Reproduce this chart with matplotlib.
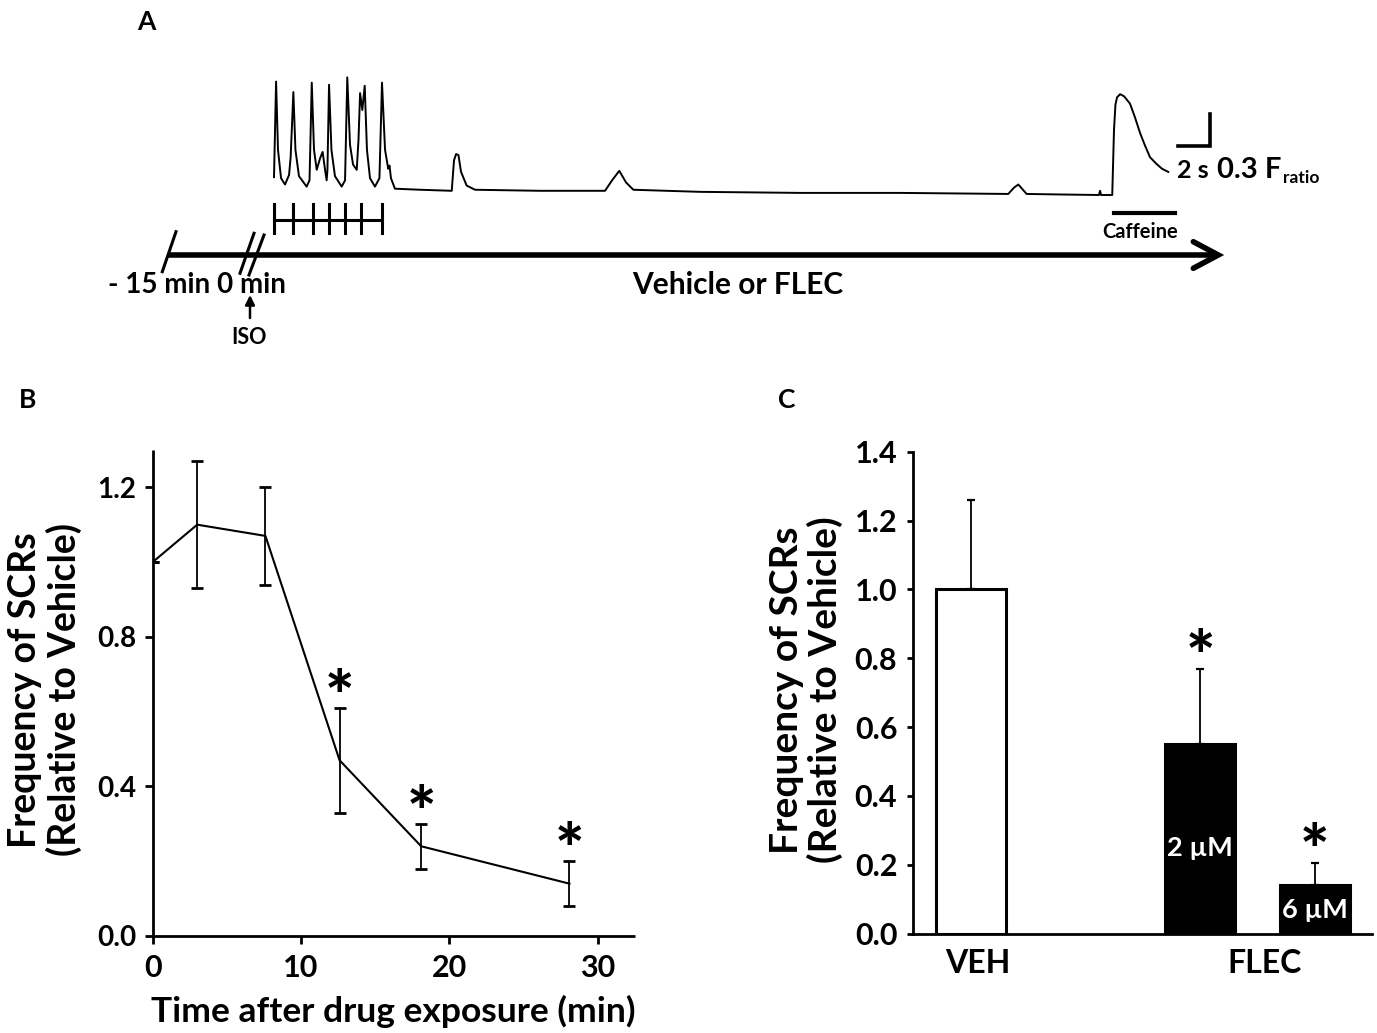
import numpy as np
import matplotlib
matplotlib.use("Agg")
import matplotlib.pyplot as plt

plt.rcParams['font.family'] = ['Lato', 'DejaVu Sans']

# ---- panel A: representative Ca2+ trace (time in s, F ratio) ----
trace_t = [0.00, 0.13, 0.25, 0.44, 0.69, 0.94, 1.04, 1.21, 1.34, 1.56, 2.04, 2.22, 2.36,
           2.50, 2.67, 2.88, 3.04, 3.19, 3.29, 3.34, 3.44, 3.59, 3.81, 4.23, 4.44, 4.58,
           4.75, 4.94, 5.17, 5.28, 5.38, 5.52, 5.67, 5.81, 6.00, 6.31, 6.59, 6.75, 6.94,
           7.14, 7.22, 7.31, 7.56, 9.13, 11.11, 11.25, 11.38, 11.53, 11.69, 12.04, 12.56,
           16.63, 20.69, 21.13, 21.58, 22.00, 22.46, 26.63, 32.88, 39.13, 45.89, 46.25,
           46.52, 46.75, 47.04, 49.13, 51.56, 51.63, 51.69, 52.39, 52.50, 52.59, 52.69,
           52.88, 53.13, 53.50, 53.81, 54.13, 54.44, 54.75, 55.13, 55.50, 55.89]
trace_f = [0.17, 1.08, 0.43, 0.16, 0.10, 0.19, 0.36, 0.98, 0.43, 0.18, 0.08, 0.14, 1.07,
           0.43, 0.24, 0.35, 0.41, 0.24, 0.14, 0.24, 1.05, 0.43, 0.18, 0.08, 0.14, 1.12,
           0.48, 0.29, 0.24, 0.52, 0.97, 0.81, 1.04, 0.43, 0.16, 0.08, 0.16, 1.07, 0.43,
           0.25, 0.28, 0.16, 0.06, 0.05, 0.04, 0.33, 0.39, 0.38, 0.22, 0.09, 0.05,
           0.04, 0.04, 0.14, 0.23, 0.12, 0.05, 0.03, 0.02, 0.02, 0.01, 0.07,
           0.10, 0.06, 0.01, 0.005, 0.00, 0.04, 0.00, 0.00, 0.62, 0.86, 0.93,
           0.96, 0.94, 0.87, 0.74, 0.59, 0.47, 0.36, 0.30, 0.25, 0.22]
pacing_t = [0.00, 1.21, 2.42, 3.44, 4.46, 5.46, 6.73]
caffeine_t = [52.52, 56.31]

# ---- panel B ----
time_min = [0, 3.0, 7.6, 12.6, 18.1, 28.1]
freq_b = [1.00, 1.10, 1.07, 0.47, 0.24, 0.14]
sem_b = [0.0, 0.17, 0.13, 0.14, 0.06, 0.06]
sig_b = [False, False, False, True, True, True]

# ---- panel C ----
groups_c = ['VEH', '2 µM', '6 µM']
freq_c = [1.00, 0.55, 0.14]
sem_c = [0.26, 0.22, 0.066]
sig_c = [False, True, True]

W, H = 1377, 1033
fig = plt.figure(figsize=(W / 100, H / 100), dpi=100)

# overlay in pixel units for the schematic
ov = fig.add_axes([0, 0, 1, 1])
ov.set_xlim(0, W)
ov.set_ylim(H, 0)
ov.axis('off')

# trace axes: 16 px per s, 105 px per F ratio unit, t=0 at x=274, F=0 at y=195
tr = fig.add_axes([0, 0, 1, 1])
tr.set_xlim(-274 / 16, (W - 274) / 16)
tr.set_ylim((195 - H) / 105, 195 / 105)
tr.axis('off')

tr.plot(trace_t, trace_f, color='black', lw=1.4, solid_joinstyle='round')
# pacing bracket
yb, y0, y1 = -0.238, -0.086, -0.365
tr.plot([pacing_t[0], pacing_t[-1]], [yb, yb], color='black', lw=2.2)
for p in pacing_t:
    tr.plot([p, p], [y0, y1], color='black', lw=2.2)
# caffeine bar
tr.plot(caffeine_t, [-0.174, -0.174], color='black', lw=3)
# scale bar 2 s / 0.3 F
tr.plot([56.48, 58.48, 58.48], [0.467, 0.467, 0.767], color='black', lw=2.6,
        solid_joinstyle='miter')

bold = dict(fontweight='bold', color='black')
ov.text(1176.7, 178, '2 s', ha='left', va='baseline', fontsize=18, **bold)
ov.text(1216.7, 178, '0.3 F', ha='left', va='baseline', fontsize=21, **bold)
ov.text(1283, 183, 'ratio', ha='left', va='baseline', fontsize=12.5, **bold)
ov.text(1140.5, 232, 'Caffeine', ha='center', va='center', fontsize=14.5, **bold)

# timeline
ov.plot([168, 1216], [255, 255], color='black', lw=4, solid_capstyle='butt')
ov.plot([1193.3, 1218.3, 1193.3], [241.7, 255, 268.3], color='black', lw=4,
        solid_capstyle='round', solid_joinstyle='miter')
ov.plot([162.3, 176], [271.7, 231.7], color='black', lw=2.2)
ov.plot([240, 254], [273.3, 233.3], color='black', lw=2.2)
ov.plot([249, 264], [275, 235], color='black', lw=2.2)
ov.text(108, 285, '- 15 min', ha='left', va='center', fontsize=20, **bold)
ov.text(216.7, 285, '0 min', ha='left', va='center', fontsize=20, **bold)
ov.text(738, 285, 'Vehicle or FLEC', ha='center', va='center', fontsize=21.5, **bold)
ov.annotate('', xy=(250, 295), xytext=(250, 318),
            arrowprops=dict(arrowstyle='-|>', color='black', lw=1.8,
                            mutation_scale=14, shrinkA=0, shrinkB=0))
ov.text(249, 338, 'ISO', ha='center', va='center', fontsize=15.5, **bold)

# panel letters
ov.text(146, 22, 'A', ha='center', va='center', fontsize=19, **bold)
ov.text(28, 400, 'B', ha='center', va='center', fontsize=19, **bold)
ov.text(787, 400, 'C', ha='center', va='center', fontsize=19, **bold)

# ---- panel B axes ----
axb = fig.add_axes([152.7 / W, (H - 936) / H, 482 / W, 486.1 / H])
axb.errorbar(time_min, freq_b, yerr=sem_b, color='black', lw=1.5,
             elinewidth=1.3, capsize=4.5, capthick=2)
axb.set_xlim(0, 32.5)
axb.set_ylim(0, 1.3)
axb.set_xticks([0, 10, 20, 30])
axb.set_yticks([0, 0.4, 0.8, 1.2])
axb.set_yticklabels(['0.0', '0.4', '0.8', '1.2'])
for s in ['top', 'right']:
    axb.spines[s].set_visible(False)
for s in ['left', 'bottom']:
    axb.spines[s].set_linewidth(2)
    axb.spines[s].set_capstyle('butt')
axb.tick_params(direction='out', length=6, width=2)
axb.tick_params(axis='y', pad=6, labelsize=20)
axb.tick_params(axis='x', pad=7, labelsize=22)
for lbl in axb.get_xticklabels() + axb.get_yticklabels():
    lbl.set_fontweight('bold')
for x, y, e, s in zip(time_min, freq_b, sem_b, sig_b):
    if s:
        axb.annotate('*', xy=(x, y + e), xytext=(0, 5.5), textcoords='offset points',
                     ha='center', va='center', fontsize=50, fontweight='black')
ov.text(393.5, 1022, 'Time after drug exposure (min)', ha='center', va='baseline',
        fontsize=25.5, fontweight='bold')
ov.text(45, 690, 'Frequency of SCRs\n(Relative to Vehicle)', rotation=90,
        ha='center', va='center', multialignment='center', fontsize=27,
        fontweight='bold', linespacing=1.1)

# ---- panel C axes ----
axc = fig.add_axes([913.3 / W, (H - 933.5) / H, (1372 - 913.3) / W, 481.8 / H])
pos_c = [0.5, 2.5, 3.5]
axc.bar(pos_c, freq_c, width=0.61, color=['white', 'black', 'black'],
        edgecolor='black', linewidth=2.2, zorder=2)
axc.errorbar(pos_c, freq_c, yerr=[np.zeros(3), sem_c], fmt='none', ecolor='black',
             elinewidth=1.3, capsize=3, capthick=1.6, zorder=1)
axc.set_xlim(0, 4)
axc.set_ylim(0, 1.4)
axc.set_yticks(np.arange(0, 1.41, 0.2))
axc.set_yticklabels(['%.1f' % v for v in np.arange(0, 1.41, 0.2)])
axc.set_xticks([0.566, 3.06])
axc.set_xticklabels(['VEH', 'FLEC'])
for s in ['top', 'right']:
    axc.spines[s].set_visible(False)
for s in ['left', 'bottom']:
    axc.spines[s].set_linewidth(2)
axc.tick_params(axis='y', direction='out', length=4.5, width=2, labelsize=22, pad=7)
axc.tick_params(axis='x', length=0, labelsize=23, pad=11)
for lbl in axc.get_xticklabels() + axc.get_yticklabels():
    lbl.set_fontweight('bold')
axc.text(2.5, 0.249, groups_c[1], ha='center', va='center', color='white',
         fontsize=19.5, fontweight='bold')
axc.text(3.5, 0.068, groups_c[2], ha='center', va='center', color='white',
         fontsize=19.5, fontweight='bold')
for x, y, e, s in zip(pos_c, freq_c, sem_c, sig_c):
    if s:
        axc.annotate('*', xy=(x, y + e), xytext=(0, 6), textcoords='offset points',
                     ha='center', va='center', fontsize=50, fontweight='black')
ov.text(806, 690, 'Frequency of SCRs\n(Relative to Vehicle)', rotation=90,
        ha='center', va='center', multialignment='center', fontsize=28,
        fontweight='bold', linespacing=1.1)

fig.savefig('out.png', dpi=100)
